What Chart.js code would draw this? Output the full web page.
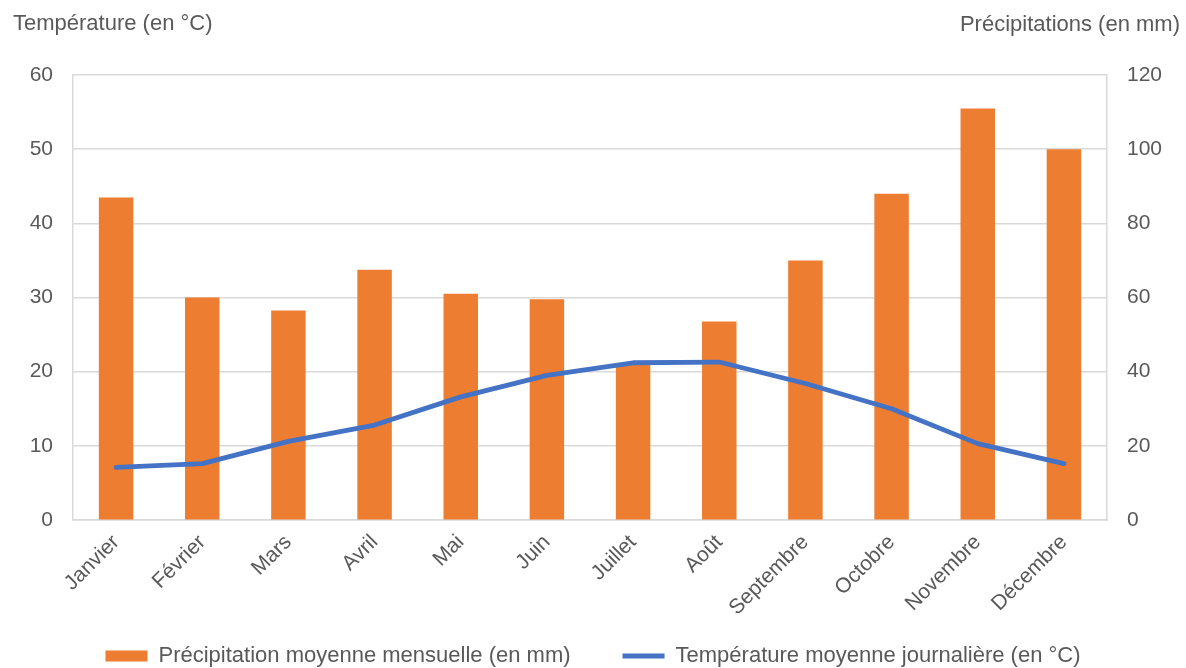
<!DOCTYPE html>
<html lang="fr">
<head>
<meta charset="utf-8">
<title>Précipitations et températures moyennes</title>
<script src="https://cdn.jsdelivr.net/npm/chart.js@4.4.1/dist/chart.umd.min.js"></script>
<style>
  html, body { margin: 0; padding: 0; background: #ffffff; overflow: hidden; }
  #wrap { position: relative; width: 1186px; height: 668px; }
</style>
</head>
<body>
<div id="wrap"><canvas id="climat" width="1186" height="668"></canvas></div>
<script>
// Mois de l'année
const mois = ['Janvier', 'Février', 'Mars', 'Avril', 'Mai', 'Juin', 'Juillet', 'Août', 'Septembre', 'Octobre', 'Novembre', 'Décembre'];
// Précipitation moyenne mensuelle (mm)
const precipitations = [87, 60, 56.5, 67.5, 61, 59.5, 42, 53.5, 70, 88, 111, 100];
// Température moyenne journalière (°C)
const temperatures = [7.1, 7.6, 10.6, 12.8, 16.6, 19.5, 21.2, 21.3, 18.4, 15.0, 10.3, 7.6];
// Graduations des deux axes verticaux
const graduationsTemp = [0, 10, 20, 30, 40, 50, 60];
const graduationsPrecip = [0, 20, 40, 60, 80, 100, 120];
// Titres des axes
const titreGauche = 'Température (en °C)';
const titreDroite = 'Précipitations (en mm)';

const gris = '#595959';
const grille = '#D9D9D9';
const police = "'Liberation Sans', Arial, sans-serif";

// Titres placés au-dessus de chaque axe vertical
const titresAxes = {
  id: 'titresAxes',
  afterDraw(chart) {
    const ctx = chart.ctx;
    ctx.save();
    ctx.fillStyle = gris;
    ctx.font = '22px ' + police;
    ctx.textBaseline = 'middle';
    ctx.textAlign = 'left';
    ctx.fillText(titreGauche, 13, 24);
    ctx.textAlign = 'right';
    ctx.fillText(titreDroite, 1180, 25);
    ctx.restore();
  }
};

new Chart(document.getElementById('climat'), {
  data: {
    labels: mois,
    datasets: [
      {
        type: 'bar',
        label: 'Précipitation moyenne mensuelle (en mm)',
        data: precipitations,
        yAxisID: 'yPrecip',
        backgroundColor: '#ED7D31',
        borderWidth: 0,
        categoryPercentage: 1,
        barPercentage: 0.4,
        order: 2,
        pointStyle: 'rect'
      },
      {
        type: 'line',
        label: 'Température moyenne journalière (en °C)',
        data: temperatures,
        yAxisID: 'yTemp',
        borderColor: '#4472C4',
        backgroundColor: '#4472C4',
        borderWidth: 4.8,
        borderCapStyle: 'round',
        borderJoinStyle: 'round',
        pointRadius: 0,
        pointHoverRadius: 0,
        tension: 0,
        order: 1,
        pointStyle: 'line'
      }
    ]
  },
  options: {
    responsive: false,
    animation: false,
    layout: { padding: { top: 75, left: 0, right: 0, bottom: -9 } },
    plugins: {
      tooltip: { enabled: false },
      title: { display: false },
      legend: {
        display: true,
        position: 'bottom',
        labels: {
          usePointStyle: true,
          pointStyleWidth: 42,
          boxHeight: 11,
          padding: 52,
          color: gris,
          font: { family: police, size: 22 },
          sort: (a, b) => a.datasetIndex - b.datasetIndex
        }
      }
    },
    scales: {
      x: {
        offset: true,
        grid: { display: false, drawTicks: false },
        border: { display: true, color: grille, width: 1.5 },
        ticks: {
          color: gris,
          font: { family: police, size: 21 },
          minRotation: 45,
          maxRotation: 45,
          padding: 10,
          autoSkip: false
        },
        afterFit(scale) {
          scale.height = 73;
          // les libellés inclinés peuvent descendre sous la zone de l'axe
          scale._computeLabelArea = () => undefined;
        }
      },
      yTemp: {
        type: 'linear',
        position: 'left',
        min: 0,
        max: 60,
        afterBuildTicks(scale) { scale.ticks = graduationsTemp.map(v => ({ value: v })); },
        grid: { color: grille, lineWidth: 1.5, drawTicks: false },
        border: { display: true, color: grille, width: 1.5 },
        ticks: {
          color: gris,
          font: { family: police, size: 21 },
          padding: 20
        },
        afterFit(scale) { scale.width = 73; }
      },
      yPrecip: {
        type: 'linear',
        position: 'right',
        min: 0,
        max: 120,
        afterBuildTicks(scale) { scale.ticks = graduationsPrecip.map(v => ({ value: v })); },
        grid: { drawOnChartArea: false, drawTicks: false },
        border: { display: true, color: grille, width: 1.5 },
        ticks: {
          color: gris,
          font: { family: police, size: 21 },
          padding: 20
        },
        afterFit(scale) { scale.width = 79; }
      }
    }
  },
  plugins: [titresAxes]
});
</script>
</body>
</html>
